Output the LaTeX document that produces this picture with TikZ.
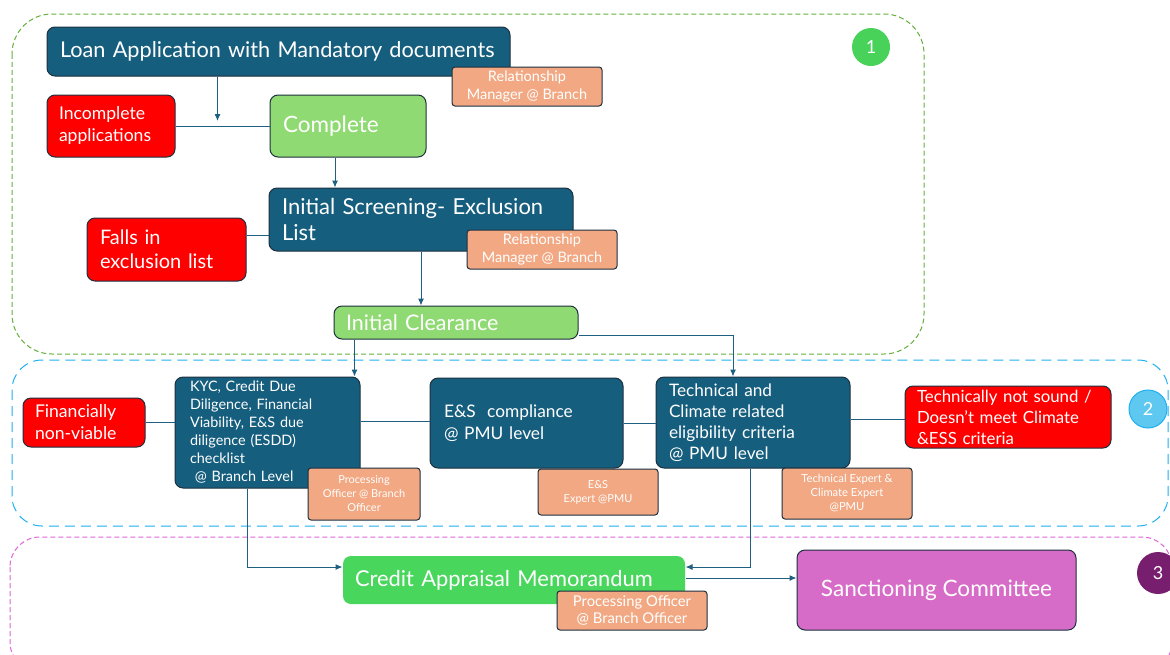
\documentclass[tikz,border=0pt]{standalone}
\usepackage{fontspec}
\setmainfont{Lato}
\usepackage{tikz}
\usetikzlibrary{positioning, arrows.meta, calc}

\definecolor{stageblue}{RGB}{22,94,126}
\definecolor{edgedark}{RGB}{28,48,62}
\definecolor{rejectred}{RGB}{255,0,0}
\definecolor{passgreen}{RGB}{144,218,115}
\definecolor{camgreen}{RGB}{72,214,92}
\definecolor{roleorange}{RGB}{241,168,131}
\definecolor{sanctionpink}{RGB}{215,108,200}
\definecolor{flowblue}{RGB}{30,95,130}
\definecolor{zonegreen}{RGB}{100,175,60}
\definecolor{zoneblue}{RGB}{30,175,240}
\definecolor{zonepink}{RGB}{220,100,215}
\definecolor{badgegreen}{RGB}{72,210,90}
\definecolor{badgeblue}{RGB}{95,200,240}
\definecolor{badgepurple}{RGB}{120,30,110}

\begin{document}
\begin{tikzpicture}[
                x=1pt, y=-1pt,
                box/.style={
                    draw=edgedark, line width=1pt,
                    rounded corners=8pt,
                    text=white, inner ysep=0pt,
                    align=left
                },
                stage/.style={box, fill=stageblue},
                reject/.style={box, fill=rejectred},
                pass/.style={box, fill=passgreen},
                role/.style={
                    draw=edgedark, line width=1pt, fill=roleorange,
                    rounded corners=3pt,
                    text=white, inner sep=2pt,
                    align=center
                },
                zone/.style={
                    line width=1pt,
                    rounded corners=40pt
                },
                badge/.style={
                    circle, minimum size=38pt, inner sep=0pt,
                    text=white, font=\fontsize{18}{20}\selectfont
                },
                flow/.style={
                    draw=flowblue, line width=1pt,
                    -{Latex[length=7pt,width=6pt]}
                },
                link/.style={
                    draw=flowblue, line width=1pt
                }
            ]

            \clip (0,0) rectangle (1170,654);

            % --- Zonen 1, 2, 3 ---
            \draw[zone, zonegreen, dash pattern=on 5pt off 3pt] (12,14) rectangle (924,354);
            \draw[zone, zoneblue, dash pattern=on 10pt off 6pt, rounded corners=30pt] (12,360) rectangle (1168,526);
            \draw[zone, zonepink, dash pattern=on 5pt off 3pt, rounded corners=30pt] (10,537) rectangle (1172,672);

            \node[badge, fill=badgegreen] (badgeA) at (871,47) {1};
            \node[badge, fill=badgeblue, draw=zoneblue, line width=1pt] (badgeB) at (1148,409) {2};
            \node[badge, fill=badgepurple, minimum size=42pt] (badgeC) at (1158,573) {3};

            % --- Zone 1: Antrag und Screening ---
            \node[stage, minimum height=49pt, inner xsep=13pt, text width=437pt,
                  font=\fontsize{21.7}{26}\selectfont] (loanApp) at (278.5,51.5)
                  {Loan Application with Mandatory documents};

            \node[reject, minimum height=62pt, inner xsep=12pt, text width=104pt,
                  font=\fontsize{17.6}{22}\selectfont] (incomplete) at (111,126)
                  {Incomplete\\applications};

            \node[pass, minimum height=62pt, inner xsep=13pt, text width=130pt,
                  font=\fontsize{22.5}{26}\selectfont] (complete) at (348,126)
                  {Complete};

            \node[stage, minimum height=63pt, inner xsep=13pt, text width=278pt,
                  font=\fontsize{22}{26}\selectfont] (screening) at (421,219.5)
                  {Initial Screening- Exclusion\\List};

            \node[reject, minimum height=63pt, inner xsep=13pt, text width=133pt,
                  font=\fontsize{20}{24}\selectfont] (exclusion) at (166.5,249.5)
                  {Falls in\\exclusion list};

            \node[pass, minimum height=33pt, inner xsep=12pt, text width=220pt,
                  font=\fontsize{21.5}{24}\selectfont] (clearance) at (456,322.5)
                  {Initial Clearance};

            \node[role, minimum width=150pt, minimum height=39pt,
                  font=\fontsize{14.5}{17.5}\selectfont] (rmLoan) at (527,86.5)
                  {Relationship\\Manager @ Branch};

            \node[role, minimum width=150pt, minimum height=39pt,
                  font=\fontsize{14.5}{17.5}\selectfont] (rmScreen) at (542,249.5)
                  {Relationship\\Manager @ Branch};

            % --- Zone 2: Pruefungen ---
            \node[stage, minimum height=111pt, inner xsep=15pt, text width=155pt,
                  font=\fontsize{14.4}{18}\selectfont] (kyc) at (267.5,432.5)
                  {KYC, Credit Due\\Diligence, Financial\\Viability, E\&S due\\diligence (ESDD)\\checklist\\\ @ Branch Level};

            \node[reject, minimum height=49pt, inner xsep=12pt, text width=98pt,
                  font=\fontsize{17.6}{22}\selectfont] (nonViable) at (84,422.5)
                  {Financially\\non-viable};

            \node[stage, minimum height=90pt, inner xsep=14pt, text width=165pt,
                  font=\fontsize{17.3}{22}\selectfont] (esComp) at (526.5,423)
                  {E\&S~ compliance\\@ PMU level};

            \node[stage, minimum height=91pt, inner xsep=13pt, text width=168pt,
                  font=\fontsize{17.2}{21}\selectfont] (techCrit) at (753,422.5)
                  {Technical and\\Climate related\\eligibility criteria\\@ PMU level};

            \node[reject, minimum height=62pt, inner xsep=12pt, text width=182pt,
                  font=\fontsize{16.8}{21}\selectfont] (notSound) at (1008,417)
                  {Technically not sound /\\Doesn’t meet Climate\\\&ESS criteria};

            \node[role, minimum width=112pt, minimum height=52pt,
                  font=\fontsize{11}{14}\selectfont] (poKyc) at (364,494)
                  {Processing\\Officer @ Branch\\Officer};

            \node[role, minimum width=120pt, minimum height=46pt,
                  font=\fontsize{11}{14}\selectfont] (esExpert) at (598,492)
                  {E\&S\\Expert @PMU};

            \node[role, minimum width=130pt, minimum height=51pt,
                  font=\fontsize{11.2}{14}\selectfont] (techExpert) at (847,493.5)
                  {Technical Expert \&\\Climate Expert\\@PMU};

            % --- Zone 3: Genehmigung ---
            \node[box, draw=none, fill=camgreen, minimum height=48pt, inner xsep=12pt, text width=318pt,
                  font=\fontsize{21.9}{26}\selectfont] (cam) at (514,580)
                  {Credit Appraisal Memorandum};

            \node[box, fill=sanctionpink, minimum width=279pt, minimum height=80pt,
                  align=center, font=\fontsize{22.6}{26}\selectfont] (sanction) at (936.5,590)
                  {Sanctioning Committee};

            \node[role, minimum width=150pt, minimum height=39pt,
                  font=\fontsize{14.8}{17.5}\selectfont] (poCam) at (632,610.5)
                  {Processing Officer\\@ Branch Officer};

            % --- Verbindungen ---
            \draw[link] (incomplete.east) -- (complete.west);
            \draw[flow] ([xshift=171pt]loanApp.south west) -- ([xshift=171pt,yshift=5pt]loanApp.south west |- complete.west);
            \draw[flow] ([xshift=-13pt]complete.south) -- ([xshift=-13pt]complete.south |- screening.north);
            \draw[link] ([yshift=14pt]exclusion.east) -- ([yshift=14pt]exclusion.east -| screening.west);
            \draw[flow] (screening.south) -- (screening.south |- clearance.north);
            \draw[flow] ([xshift=21pt]clearance.south west) -- ([xshift=21pt]clearance.south west |- kyc.north);
            \draw[flow] ([yshift=-13pt]clearance.east) -| ([xshift=-20pt]techCrit.north);

            \draw[link] (nonViable.east) -- (nonViable.east -| kyc.west);
            \draw[link] ([yshift=11pt]kyc.east) -- ([yshift=11pt]kyc.east -| esComp.west);
            \draw[link] (esComp.east) -- (esComp.east -| techCrit.west);
            \draw[link] ([yshift=3pt]techCrit.east) -- ([yshift=3pt]techCrit.east -| notSound.west);

            \draw[flow] ([xshift=-20pt]kyc.south) |- ([yshift=13pt]cam.west);
            \draw[flow] ([xshift=-3pt]techCrit.south) |- ([yshift=13pt]cam.east);
            \draw[flow] ([yshift=2pt]cam.east) -- ([yshift=2pt]cam.east -| sanction.west);

        \end{tikzpicture}
\end{document}
